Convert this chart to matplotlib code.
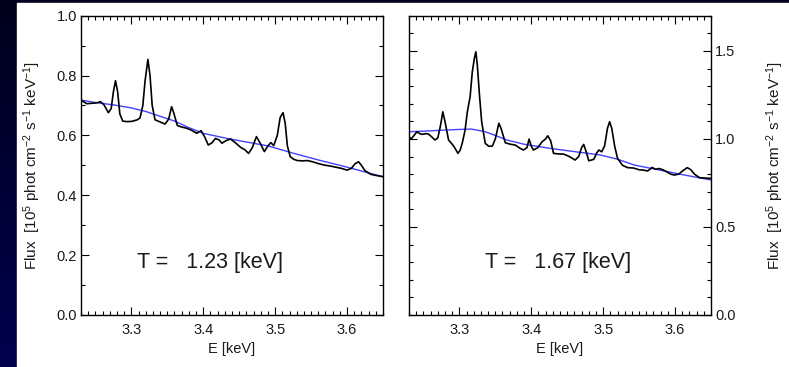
import numpy as np
import matplotlib
matplotlib.use("Agg")
import matplotlib.pyplot as plt
from matplotlib.ticker import MultipleLocator, FormatStrFormatter
from matplotlib.patches import Rectangle
from matplotlib.colors import LinearSegmentedColormap

plt.rcParams['font.family'] = ['Liberation Sans', 'DejaVu Sans']
plt.rcParams['mathtext.fontset'] = 'custom'
plt.rcParams['mathtext.rm'] = 'Liberation Sans'
plt.rcParams['mathtext.it'] = 'Liberation Sans:italic'
plt.rcParams['mathtext.default'] = 'regular'

# ---------------- data ----------------
E_left = [3.230, 3.234, 3.238, 3.243, 3.249, 3.254, 3.257, 3.262, 3.266, 3.268,
          3.272, 3.275, 3.278, 3.281, 3.284, 3.288, 3.294, 3.301, 3.308, 3.312,
          3.316, 3.319, 3.323, 3.326, 3.329, 3.333, 3.340, 3.347, 3.352, 3.356,
          3.359, 3.364, 3.370, 3.377, 3.384, 3.391, 3.397, 3.402, 3.407, 3.412,
          3.417, 3.422, 3.426, 3.432, 3.438, 3.445, 3.452, 3.458, 3.463, 3.468,
          3.474, 3.479, 3.485, 3.490, 3.494, 3.498, 3.503, 3.507, 3.511, 3.514,
          3.517, 3.521, 3.526, 3.531, 3.538, 3.545, 3.552, 3.560, 3.568, 3.576,
          3.584, 3.592, 3.600, 3.606, 3.611, 3.616, 3.620, 3.625, 3.633, 3.641,
          3.650]
flux_left = [0.718, 0.712, 0.706, 0.707, 0.708, 0.710, 0.713, 0.702, 0.685, 0.676,
             0.690, 0.745, 0.783, 0.745, 0.672, 0.648, 0.646, 0.647, 0.652, 0.658,
             0.700, 0.780, 0.854, 0.800, 0.700, 0.652, 0.645, 0.638, 0.655, 0.696,
             0.675, 0.633, 0.628, 0.624, 0.617, 0.607, 0.616, 0.595, 0.568, 0.575,
             0.590, 0.585, 0.574, 0.583, 0.588, 0.575, 0.560, 0.552, 0.540, 0.558,
             0.596, 0.575, 0.546, 0.565, 0.576, 0.566, 0.600, 0.660, 0.676, 0.640,
             0.565, 0.529, 0.520, 0.516, 0.515, 0.516, 0.512, 0.506, 0.501, 0.498,
             0.494, 0.490, 0.484, 0.490, 0.505, 0.512, 0.500, 0.482, 0.470, 0.466,
             0.462]
E_cont_left = [3.230, 3.250, 3.275, 3.300, 3.320, 3.340, 3.360, 3.380, 3.400, 3.433,
               3.460, 3.490, 3.526, 3.560, 3.600, 3.650]
cont_left = [0.718, 0.710, 0.702, 0.692, 0.680, 0.664, 0.648, 0.626, 0.607, 0.590,
             0.578, 0.565, 0.540, 0.518, 0.494, 0.462]

E_right = [3.230, 3.233, 3.237, 3.241, 3.245, 3.248, 3.253, 3.257, 3.262, 3.266,
           3.270, 3.274, 3.277, 3.280, 3.285, 3.289, 3.292, 3.295, 3.298, 3.301,
           3.304, 3.308, 3.311, 3.315, 3.318, 3.321, 3.323, 3.325, 3.328, 3.331,
           3.336, 3.341, 3.346, 3.350, 3.355, 3.358, 3.364, 3.371, 3.378, 3.384,
           3.389, 3.394, 3.397, 3.400, 3.403, 3.409, 3.415, 3.420, 3.423, 3.427,
           3.431, 3.438, 3.445, 3.453, 3.461, 3.466, 3.470, 3.473, 3.477, 3.480,
           3.487, 3.491, 3.494, 3.498, 3.502, 3.506, 3.509, 3.512, 3.516, 3.520,
           3.527, 3.534, 3.542, 3.550, 3.556, 3.562, 3.568, 3.573, 3.578, 3.583,
           3.589, 3.594, 3.599, 3.605, 3.611, 3.617, 3.622, 3.627, 3.634, 3.641,
           3.650]
flux_right = [1.012, 1.000, 1.020, 1.041, 1.030, 1.026, 1.030, 1.028, 1.010, 0.994,
              1.005, 1.080, 1.154, 1.100, 0.994, 0.975, 0.960, 0.940, 0.918, 0.935,
              0.975, 1.050, 1.150, 1.240, 1.380, 1.460, 1.495, 1.420, 1.250, 1.100,
              0.975, 0.958, 0.960, 1.000, 1.089, 1.060, 0.978, 0.970, 0.965, 0.948,
              0.937, 0.950, 0.999, 0.960, 0.937, 0.950, 0.984, 1.000, 1.018, 0.990,
              0.918, 0.915, 0.914, 0.900, 0.880, 0.900, 0.950, 0.969, 0.920, 0.876,
              0.884, 0.920, 0.937, 0.927, 0.960, 1.060, 1.098, 1.060, 0.960, 0.890,
              0.850, 0.837, 0.835, 0.825, 0.823, 0.818, 0.838, 0.828, 0.832, 0.825,
              0.812, 0.800, 0.795, 0.800, 0.820, 0.837, 0.825, 0.800, 0.780, 0.778,
              0.776]
E_cont_right = [3.230, 3.250, 3.278, 3.300, 3.317, 3.336, 3.350, 3.366, 3.390, 3.427,
                3.460, 3.496, 3.520, 3.543, 3.580, 3.613, 3.650]
cont_right = [1.041, 1.044, 1.050, 1.054, 1.056, 1.041, 1.020, 0.994, 0.970, 0.946,
              0.928, 0.909, 0.885, 0.852, 0.822, 0.795, 0.767]

labels_T = ["T =   1.23 [keV]", "T =   1.67 [keV]"]
ylims = [(0.0, 1.0), (0.0, 1.7)]
xticks = [3.3, 3.4, 3.5, 3.6]

# ---------------- figure ----------------
W, H = 789, 367
fig = plt.figure(figsize=(W / 100, H / 100), dpi=100)

bg = fig.add_axes([0, 0, 1, 1], zorder=-10)
grad = np.linspace(0, 1, 256).reshape(-1, 1)
cmap = LinearSegmentedColormap.from_list('navy', ['#00001c', '#00004e'])
bg.imshow(grad, aspect='auto', cmap=cmap, extent=[0, 1, 0, 1], origin='upper')
bg.add_patch(Rectangle((17 / W, 0), 1, (H - 3) / H, color='white', transform=bg.transAxes))
bg.set_xlim(0, 1); bg.set_ylim(0, 1)
bg.axis('off')

ylabel = r"Flux  [10$^5$ phot cm$^{-2}$ s$^{-1}$ keV$^{-1}$]"
tick_color = '#1a1a1a'

axes_specs = [(81, E_left, flux_left, E_cont_left, cont_left, 0.427),
              (409, E_right, flux_right, E_cont_right, cont_right, 0.493)]

for i, (x0, E, F, Ec, C, tx) in enumerate(axes_specs):
    ax = fig.add_axes([x0 / W, (H - 315) / H, 302 / W, 299.3 / H])
    ax.plot(Ec, C, color='#2020ff', lw=1.0, alpha=0.85)
    ax.plot(E, F, color='black', lw=1.2)
    ax.set_xlim(3.23, 3.65)
    ax.set_ylim(*ylims[i])
    ax.set_xticks(xticks)
    ax.xaxis.set_minor_locator(MultipleLocator(0.01))
    if i == 0:
        ax.yaxis.set_major_locator(MultipleLocator(0.2))
    else:
        ax.yaxis.set_major_locator(MultipleLocator(0.5))
    ax.yaxis.set_minor_locator(MultipleLocator(0.1))
    ax.tick_params(which='both', direction='in', top=True, right=True,
                   colors='black', labelcolor=tick_color, labelsize=10.5, width=0.8)
    ax.tick_params(which='major', length=6)
    ax.tick_params(which='minor', length=3)
    ax.tick_params(axis='x', which='major', pad=6)
    ax.tick_params(axis='y', which='major', pad=3)
    for s in ax.spines.values():
        s.set_linewidth(1.0)
    ax.set_xlabel("E [keV]", fontsize=10.5, color=tick_color, labelpad=3)
    ax.yaxis.set_major_formatter(FormatStrFormatter('%.1f'))
    if i == 0:
        ax.set_ylabel(ylabel, fontsize=11, color=tick_color)
        ax.yaxis.set_label_coords(-0.125, 0.5)
    else:
        ax.yaxis.tick_right()
        ax.tick_params(which='both', left=True, right=True, labelleft=False, labelright=True)
        ax.yaxis.set_label_position('right')
        ax.set_ylabel(ylabel, fontsize=11, color=tick_color)
        ax.yaxis.set_label_coords(1.176, 0.5)
    ax.text(tx, 0.177, labels_T[i], transform=ax.transAxes, fontsize=15.5,
            ha='center', va='center', color=tick_color)

fig.savefig("out.png", dpi=100)
